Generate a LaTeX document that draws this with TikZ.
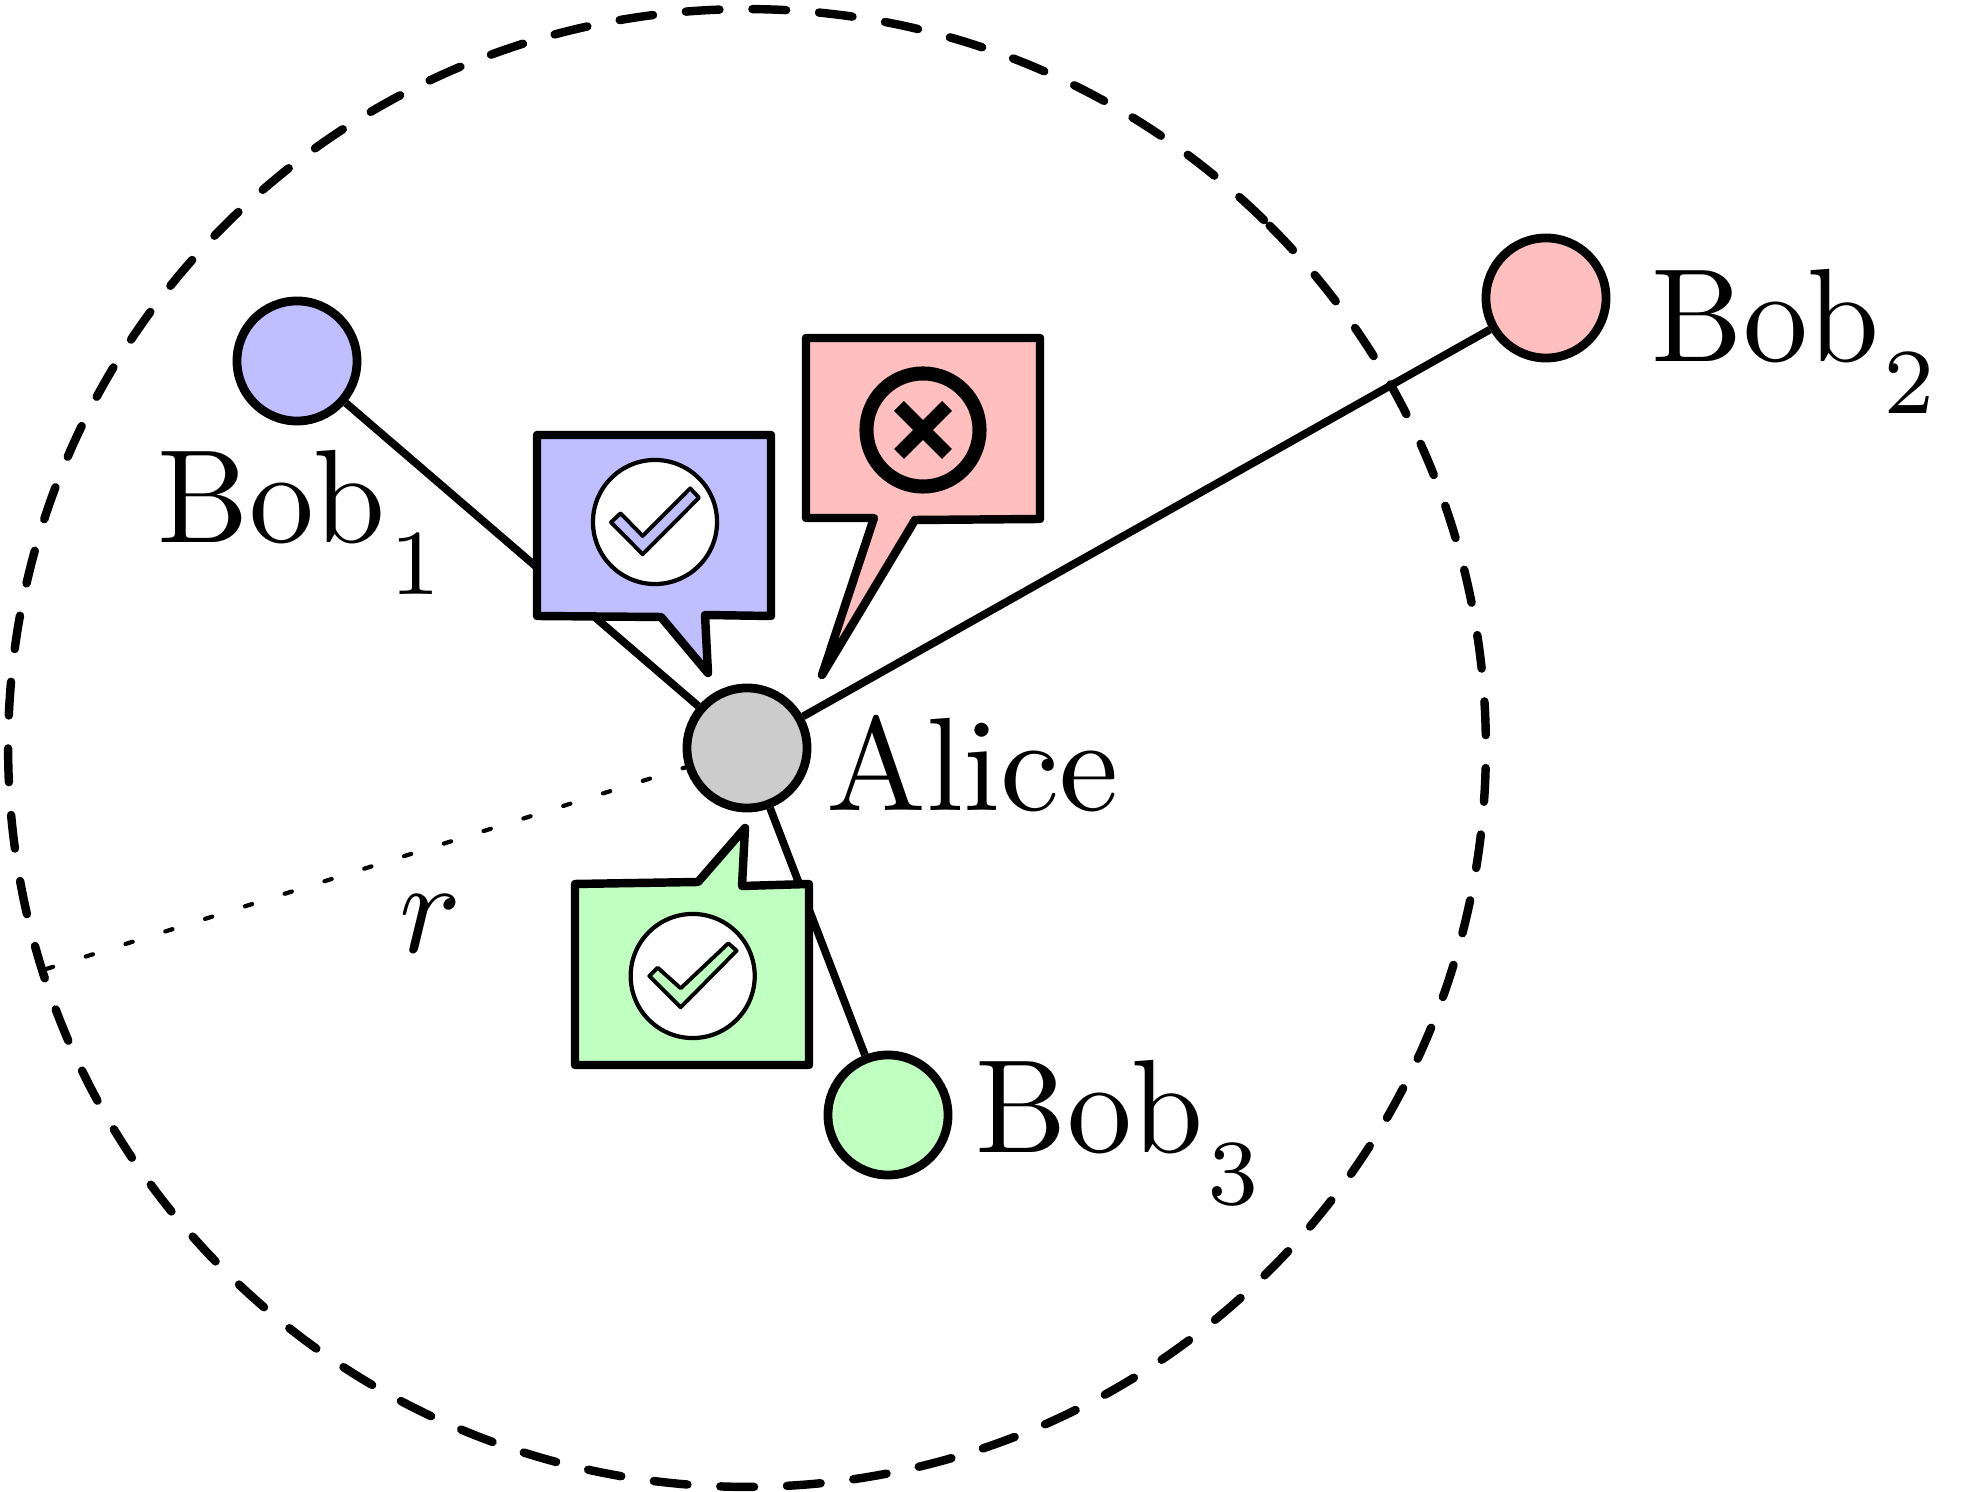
\documentclass[tikz,border=0pt]{standalone}
\usetikzlibrary{backgrounds}

\tikzset{
  party/.style={circle, draw, line width=2.5pt, minimum size=1.2cm, inner sep=0pt},
  link/.style={draw, line width=2.2pt},
  bubble/.style={draw, line width=2.4pt, line join=round},
  seal/.style={circle, draw, fill=white, line width=1.2pt, minimum size=1.24cm, inner sep=0pt},
  tick/.style={draw, line width=1.1pt, line join=round},
  tag/.style={xscale=3.68, yscale=3.78, anchor=base west, inner sep=0pt}
}
\newcommand{\bobname}[1]{$\mathrm{Bob}_{\kern0.3pt\raisebox{-2.4pt}{$\scriptstyle #1$}}$}

\begin{document}
\begin{tikzpicture}[x=0.01cm, y=-0.01cm]
  \useasboundingbox (0,0) rectangle (1975,1492);

  % parties
  \node[party, fill=black!20] (alice) at (747,748) {};
  \node[party, fill=blue!25] (bob1) at (297,361) {};
  \node[party, fill=red!25] (bob2) at (1546,298) {};
  \node[party, fill=green!25] (bob3) at (888,1115) {};
  \coordinate (rim) at (43,970);

  % links run behind everything
  \begin{pgfonlayer}{background}
    \draw[link] (alice) -- (bob1);
    \draw[link] (alice) -- (bob2);
    \draw[link] (alice) -- (bob3);
    \draw[line width=1.2pt, line cap=round, dash pattern=on 0.075cm off 0.342cm, dash phase=0.234cm] (alice.center) -- (rim);
  \end{pgfonlayer}

  % range
  \draw[line width=2.4pt, line cap=round, dash pattern=on 0.337cm off 0.3295cm]
    (alice.center) ++(45.6:7.385cm) arc[start angle=45.6, end angle=405.6, radius=7.385cm];

  % blue bubble
  \path[bubble, fill=blue!25] (537,435) -- (771,435) -- (771,616) -- (705,615) -- (708,673)
    -- (661,617) -- (537,616) -- cycle;
  \node[seal] (seal1) at (655,522) {};
  \path[tick, fill=blue!25] (620.5,513.3) -- (642.7,536) -- (690.2,488.3) -- (699,497.7)
    -- (642.7,554.3) -- (611,522.3) -- cycle;

  % red bubble
  \path[bubble, fill=red!25] (806,338) -- (1040,338) -- (1040,519) -- (915,520) -- (822,675)
    -- (874,518) -- (806,518) -- cycle;
  \node[circle, draw, line width=4pt, minimum size=1.13cm, inner sep=0pt] (seal2) at (923,430) {};
  \draw[line width=4pt] (899,406) -- (947,454);
  \draw[line width=4pt] (947,406) -- (899,454);

  % green bubble
  \path[bubble, fill=green!25] (575,884) -- (698,882) -- (745,828) -- (742,886) -- (809,884)
    -- (809,1065) -- (575,1065) -- cycle;
  \node[seal] (seal3) at (692.7,976) {};
  \path[tick, fill=green!25] (657.7,967.7) -- (680.7,988.3) -- (728.3,943.3) -- (736.7,950.7)
    -- (680.7,1007.3) -- (649.3,976) -- cycle;

  % names
  \node[tag] (name1) at (155,543) {\bobname{1}};
  \node[tag] (name2) at (1649,362) {\bobname{2}};
  \node[tag] (name3) at (973,1153) {\bobname{3}};
  \node[tag, xscale=1.03] (name0) at (824,811) {Alice};
  \node[tag] (range) at (397,953) {$r$};
\end{tikzpicture}
\end{document}
